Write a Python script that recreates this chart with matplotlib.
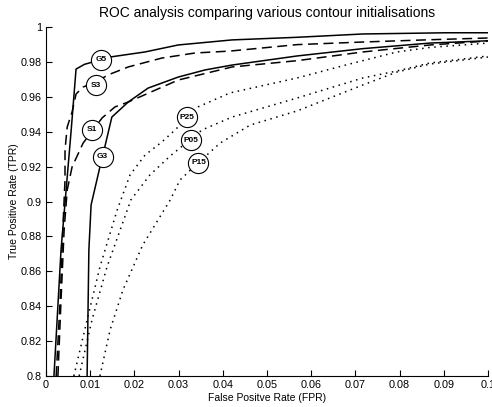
import matplotlib
matplotlib.use("Agg")
import matplotlib.pyplot as plt

plt.rcParams['font.family'] = ['Liberation Sans', 'DejaVu Sans']

# ---- data (FPR, TPR) ----
g5_fpr = [0.0018, 0.0034, 0.0057, 0.0068, 0.0087, 0.0145, 0.0224, 0.0299, 0.0421, 0.0568, 0.0717, 0.0907, 0.1000]
g5_tpr = [0.8000, 0.8722, 0.9410, 0.9759, 0.9786, 0.9828, 0.9857, 0.9897, 0.9926, 0.9941, 0.9960, 0.9967, 0.9967]

s3_fpr = [0.0023, 0.0032, 0.0038, 0.0043, 0.0043, 0.0048, 0.0059, 0.0068, 0.0084, 0.0113, 0.0140, 0.0186, 0.0262, 0.0337, 0.0416, 0.0568, 0.0717, 0.0869, 0.1000]
s3_tpr = [0.8000, 0.8436, 0.8837, 0.9123, 0.9295, 0.9427, 0.9513, 0.9616, 0.9656, 0.9685, 0.9725, 0.9771, 0.9822, 0.9851, 0.9862, 0.9899, 0.9914, 0.9927, 0.9937]

s1_fpr = [0.0027, 0.0034, 0.0041, 0.0048, 0.0059, 0.0084, 0.0127, 0.0156, 0.0186, 0.0299, 0.0421, 0.0568, 0.0717, 0.0869, 0.1000]
s1_tpr = [0.8000, 0.8436, 0.8837, 0.9066, 0.9198, 0.9335, 0.9479, 0.9542, 0.9570, 0.9696, 0.9771, 0.9807, 0.9857, 0.9897, 0.9920]

g3_fpr = [0.0093, 0.0097, 0.0102, 0.0122, 0.0133, 0.0149, 0.0186, 0.0231, 0.0299, 0.0360, 0.0421, 0.0568, 0.0717, 0.0869, 0.1000]
g3_tpr = [0.8000, 0.8722, 0.8980, 0.9198, 0.9312, 0.9484, 0.9570, 0.9650, 0.9713, 0.9754, 0.9782, 0.9834, 0.9876, 0.9908, 0.9921]

p25_fpr = [0.0063, 0.0093, 0.0122, 0.0161, 0.0190, 0.0224, 0.0262, 0.0292, 0.0344, 0.0416, 0.0568, 0.0681, 0.0794, 0.0869, 0.1000]
p25_tpr = [0.8000, 0.8321, 0.8625, 0.8951, 0.9152, 0.9266, 0.9341, 0.9410, 0.9542, 0.9622, 0.9708, 0.9784, 0.9857, 0.9883, 0.9908]

p05_fpr = [0.0075, 0.0104, 0.0138, 0.0192, 0.0235, 0.0281, 0.0353, 0.0421, 0.0568, 0.0717, 0.0794, 0.0869, 0.1000]
p05_tpr = [0.8000, 0.8321, 0.8625, 0.9009, 0.9152, 0.9261, 0.9410, 0.9484, 0.9593, 0.9708, 0.9748, 0.9794, 0.9834]

p15_fpr = [0.0122, 0.0145, 0.0174, 0.0219, 0.0281, 0.0303, 0.0344, 0.0394, 0.0462, 0.0568, 0.0717, 0.0794, 0.0869, 0.1000]
p15_tpr = [0.8000, 0.8264, 0.8493, 0.8751, 0.9009, 0.9123, 0.9221, 0.9335, 0.9438, 0.9519, 0.9668, 0.9742, 0.9788, 0.9828]

label_names = ['G5', 'S3', 'S1', 'G3', 'P25', 'P05', 'P15']
label_fpr = [0.0125, 0.0113, 0.0103, 0.0128, 0.0318, 0.0329, 0.0345]
label_tpr = [0.9813, 0.9666, 0.9412, 0.9256, 0.9482, 0.9352, 0.9222]

x_ticks = [0, 0.01, 0.02, 0.03, 0.04, 0.05, 0.06, 0.07, 0.08, 0.09, 0.1]
x_tick_labels = ['0', '0.01', '0.02', '0.03', '0.04', '0.05', '0.06', '0.07', '0.08', '0.09', '0.1']
y_ticks = [0.8, 0.82, 0.84, 0.86, 0.88, 0.9, 0.92, 0.94, 0.96, 0.98, 1.0]
y_tick_labels = ['0.8', '0.82', '0.84', '0.86', '0.88', '0.9', '0.92', '0.94', '0.96', '0.98', '1']

fig = plt.figure(figsize=(4.92, 4.07), dpi=100)
ax = fig.add_axes([46/492, 31/407, 442/492, 349/407])

lw = 1.1
dash = (0, (6.5, 3.6))
dot = (0, (1, 3))
ax.plot(g5_fpr, g5_tpr, color='black', lw=lw, ls='-')
ax.plot(s3_fpr, s3_tpr, color='black', lw=lw, ls=dash)
ax.plot(s1_fpr, s1_tpr, color='black', lw=lw, ls=dash)
ax.plot(g3_fpr, g3_tpr, color='black', lw=lw, ls='-')
ax.plot(p25_fpr, p25_tpr, color='black', lw=lw, ls=dot)
ax.plot(p05_fpr, p05_tpr, color='black', lw=lw, ls=dot)
ax.plot(p15_fpr, p15_tpr, color='black', lw=lw, ls=dot)

for name, fx, ty in zip(label_names, label_fpr, label_tpr):
    ax.plot([fx], [ty], marker='o', markersize=14.5, markerfacecolor='white',
            markeredgecolor='black', markeredgewidth=0.8, zorder=5, clip_on=False)
    ax.text(fx, ty, name, ha='center', va='center', fontsize=6,
            fontweight='bold', zorder=6)

ax.set_xlim(0, 0.1)
ax.set_ylim(0.8, 1.0)
ax.set_xticks(x_ticks)
ax.set_xticklabels(x_tick_labels)
ax.set_yticks(y_ticks)
ax.set_yticklabels(y_tick_labels)
ax.tick_params(direction='in', length=4, width=0.8, labelsize=7.8, pad=3)
for s in ['top', 'right']:
    ax.spines[s].set_visible(False)
for s in ['left', 'bottom']:
    ax.spines[s].set_linewidth(0.8)

ax.set_xlabel('False Positve Rate (FPR)', fontsize=7.5, labelpad=2)
ax.set_ylabel('True Positive Rate (TPR)', fontsize=7.5)
ax.yaxis.set_label_coords(-27/442, 0.5)
ax.set_title('ROC analysis comparing various contour initialisations', fontsize=10, pad=7)

fig.savefig('out.png', dpi=100)
